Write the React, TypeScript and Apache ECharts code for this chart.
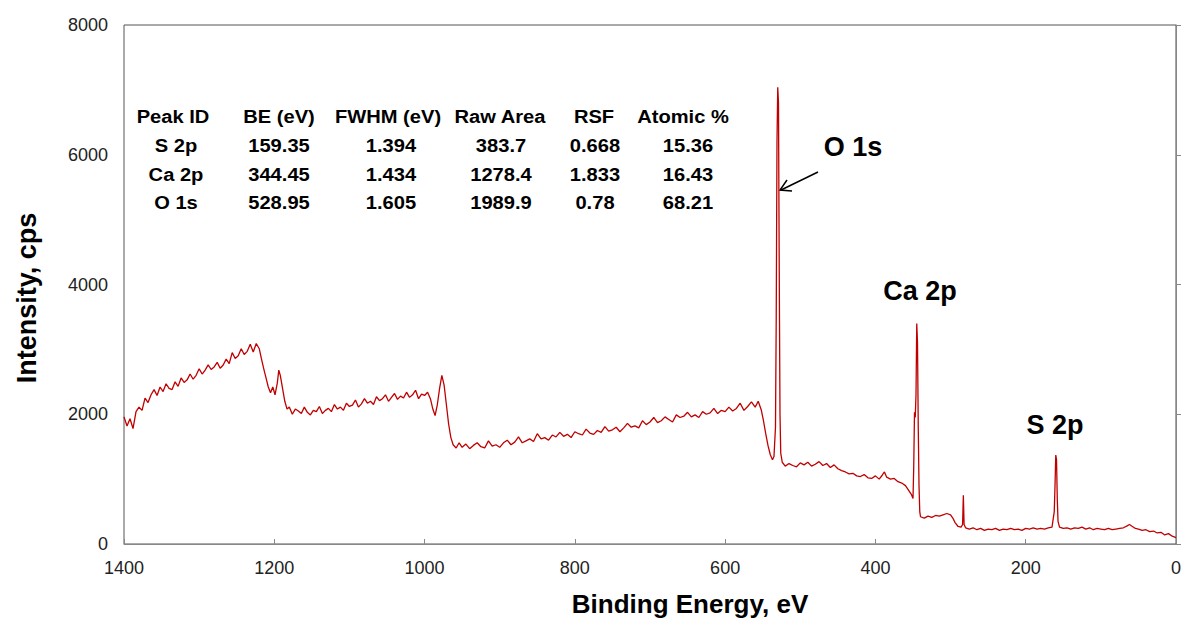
import React, { useEffect, useRef } from "react";
import * as echarts from "echarts";

// Binding energy (eV) / intensity (cps) pairs
const region1400to1180: [number, number][] = [
  [1400, 1960], [1396, 1820], [1392, 1930], [1388, 1780], [1384, 2040], [1380, 2110], [1376, 2060],
  [1372, 2250], [1368, 2180], [1364, 2300], [1360, 2380], [1356, 2290], [1352, 2420], [1348, 2350],
  [1344, 2470], [1340, 2400], [1336, 2380], [1332, 2500], [1328, 2430], [1324, 2560], [1320, 2490],
  [1316, 2530], [1312, 2620], [1308, 2540], [1304, 2600], [1300, 2700], [1296, 2620], [1292, 2680],
  [1288, 2760], [1284, 2690], [1280, 2730], [1276, 2800], [1272, 2710], [1268, 2760], [1264, 2850],
  [1260, 2780], [1256, 2950], [1252, 2860], [1248, 2900], [1244, 3010], [1240, 2920], [1236, 2970],
  [1232, 3080], [1228, 2960], [1224, 3090], [1220, 3010], [1217, 2850], [1214, 2700], [1211, 2560],
  [1208, 2420], [1205, 2330], [1202, 2420], [1199, 2300], [1196, 2480], [1194, 2680], [1192, 2600],
  [1189, 2400], [1186, 2200], [1183, 2080], [1180, 2110],
];

const region1176to952: [number, number][] = [
  [1176, 2000], [1172, 2080], [1168, 2050], [1164, 2010], [1160, 2110], [1156, 2030], [1152, 1990],
  [1148, 2060], [1144, 2040], [1140, 2120], [1136, 2010], [1132, 2060], [1128, 2090], [1124, 2040],
  [1120, 2150], [1116, 2080], [1112, 2110], [1108, 2060], [1104, 2170], [1100, 2120], [1096, 2140],
  [1092, 2220], [1088, 2110], [1084, 2160], [1080, 2240], [1076, 2170], [1072, 2200], [1068, 2150],
  [1064, 2270], [1060, 2210], [1056, 2240], [1052, 2300], [1048, 2200], [1044, 2260], [1040, 2320],
  [1036, 2230], [1032, 2280], [1028, 2250], [1024, 2340], [1020, 2260], [1016, 2300], [1012, 2370],
  [1008, 2240], [1004, 2310], [1000, 2290], [996, 2340], [992, 2230], [989, 2080], [986, 1980],
  [983, 2150], [980, 2400], [977, 2600], [974, 2450], [971, 2150], [968, 1850], [965, 1640],
  [962, 1530], [958, 1480], [954, 1560],
];

const region950to552: [number, number][] = [
  [950, 1490], [945, 1540], [940, 1470], [935, 1520], [930, 1560], [925, 1500], [920, 1480],
  [915, 1590], [910, 1510], [905, 1530], [900, 1490], [895, 1560], [890, 1600], [885, 1530],
  [880, 1570], [875, 1650], [870, 1560], [865, 1590], [860, 1620], [855, 1580], [850, 1700],
  [845, 1620], [840, 1640], [835, 1600], [830, 1680], [825, 1650], [820, 1720], [815, 1660],
  [810, 1690], [805, 1640], [800, 1730], [795, 1700], [790, 1680], [785, 1770], [780, 1710],
  [775, 1690], [770, 1750], [765, 1720], [760, 1810], [755, 1740], [750, 1760], [745, 1800],
  [740, 1730], [735, 1790], [730, 1860], [725, 1800], [720, 1820], [715, 1790], [710, 1900],
  [705, 1840], [700, 1880], [695, 1950], [690, 1870], [685, 1900], [680, 1960], [675, 1920],
  [670, 1880], [665, 1990], [660, 1950], [655, 1970], [650, 2030], [645, 1960], [640, 1990],
  [635, 1950], [630, 2040], [625, 2000], [620, 2020], [615, 2090], [610, 2010], [605, 2060],
  [600, 2040], [595, 2110], [590, 2050], [585, 2090], [580, 2170], [575, 2060], [570, 2120],
  [565, 2190], [560, 2110], [556, 2200], [552, 2070],
];

const regionO1s: [number, number][] = [
  [549, 1900], [546, 1700], [543, 1520], [540, 1380], [537, 1300], [535, 1350], [533, 1800],
  [532, 3500], [531, 6200], [530, 7040], [529, 6800], [528, 4200], [527, 2000], [526, 1400],
  [524, 1260],
];

const region520to350: [number, number][] = [
  [520, 1200], [515, 1240], [510, 1210], [505, 1190], [500, 1250], [495, 1220], [490, 1260],
  [485, 1200], [480, 1230], [475, 1270], [470, 1210], [465, 1240], [460, 1180], [455, 1220],
  [450, 1160], [445, 1130], [440, 1110], [435, 1080], [430, 1090], [425, 1050], [420, 1040],
  [415, 1070], [410, 1020], [405, 1010], [400, 1050], [395, 1000], [391, 1060], [388, 1110],
  [385, 1030], [380, 1000], [375, 1010], [370, 960], [365, 940], [360, 900], [356, 830],
  [352, 760], [350, 700],
];

const regionCa2p: [number, number][] = [
  [349, 1200], [348, 2030], [347, 1950], [346, 2300], [345, 3400], [344, 3100], [343, 1800],
  [342, 900], [341, 500], [340, 420],
];

const region335to165: [number, number][] = [
  [335, 400], [330, 430], [325, 410], [320, 440], [315, 430], [310, 450], [305, 470], [300, 450],
  [297, 400], [294, 330], [290, 270], [286, 260], [284, 300], [283, 750], [282, 300], [280, 250],
  [275, 230], [270, 250], [265, 220], [260, 240], [255, 210], [250, 230], [245, 220], [240, 240],
  [235, 210], [230, 230], [225, 220], [220, 240], [215, 220], [210, 230], [205, 210], [200, 240],
  [195, 230], [190, 250], [185, 230], [180, 240], [175, 230], [170, 250], [165, 260],
];

const regionS2p: [number, number][] = [
  [162, 500], [161, 900], [160, 1370], [159, 1300], [158, 700], [157, 350], [155, 260],
];

const region150to0: [number, number][] = [
  [150, 240], [145, 250], [140, 230], [135, 250], [130, 240], [125, 260], [120, 230], [115, 250],
  [110, 220], [105, 240], [100, 230], [95, 220], [90, 240], [85, 220], [80, 230], [75, 240],
  [70, 250], [65, 280], [62, 300], [58, 270], [54, 240], [50, 230], [45, 210], [40, 220],
  [35, 190], [30, 200], [25, 170], [20, 180], [15, 140], [10, 160], [5, 120], [0, 100],
];

const xTicks = { min: 0, max: 1400, interval: 200 };
const yTicks = { min: 0, max: 8000, interval: 2000 };

const tableHeader = ["Peak ID", "BE (eV)", "FWHM (eV)", "Raw Area", "RSF", "Atomic %"];
const tableRows = [
  ["S 2p", "159.35", "1.394", "383.7", "0.668", "15.36"],
  ["Ca 2p", "344.45", "1.434", "1278.4", "1.833", "16.43"],
  ["O 1s", "528.95", "1.605", "1989.9", "0.78", "68.21"],
];
const peakLabels = ["O 1s", "Ca 2p", "S 2p"];

export default function App() {
  const ref = useRef<HTMLDivElement>(null);
  useEffect(() => {
    document.body.style.margin = "0";
    if (!ref.current) return;
    const chart = echarts.init(ref.current, undefined, { renderer: "svg" });
    const font = '"Liberation Sans", Arial, sans-serif';
    const data = ([] as [number, number][]).concat(
      region1400to1180, region1176to952, region950to552, regionO1s, region520to350,
      regionCa2p, region335to165, regionS2p, region150to0
    );

    const headerX = [173, 279, 388, 500, 594, 683];
    const valueX = [176, 279, 391, 501, 595, 688];
    const rowY = [116, 145, 174, 202];
    const graphics: any[] = [];
    tableHeader.forEach((t, i) => {
      graphics.push({
        type: "text", x: headerX[i], y: rowY[0], scaleX: 1.06,
        style: { text: t, fill: "#000", font: `bold 19px ${font}`, align: "center", verticalAlign: "middle" },
      });
    });
    tableRows.forEach((row, r) => {
      row.forEach((t, i) => {
        graphics.push({
          type: "text", x: valueX[i], y: rowY[r + 1], scaleX: 1.06,
          style: { text: t, fill: "#000", font: `bold 19px ${font}`, align: "center", verticalAlign: "middle" },
        });
      });
    });
    const labelPos = [[853, 147], [920, 291], [1055, 425]];
    peakLabels.forEach((t, i) => {
      graphics.push({
        type: "text", x: labelPos[i][0], y: labelPos[i][1],
        style: { text: t, fill: "#000", font: `bold 27px ${font}`, align: "center", verticalAlign: "middle" },
      });
    });
    graphics.push({
      type: "polyline",
      shape: { points: [[818, 172], [781, 190]] },
      style: { stroke: "#000", lineWidth: 1.5, fill: null },
    });
    graphics.push({
      type: "polyline",
      shape: { points: [[792, 191], [780, 190], [787, 180]] },
      style: { stroke: "#000", lineWidth: 1.5, fill: null },
    });
    graphics.push({
      type: "text", x: 690, y: 604,
      style: { text: "Binding Energy, eV", fill: "#000", font: `bold 26px ${font}`, align: "center", verticalAlign: "middle" },
    });
    graphics.push({
      type: "text", x: 27, y: 298, rotation: Math.PI / 2,
      style: { text: "Intensity, cps", fill: "#000", font: `bold 27px ${font}`, align: "center", verticalAlign: "middle" },
    });

    chart.setOption({
      animation: false,
      backgroundColor: "#fff",
      grid: { left: 124, right: 8, top: 25, bottom: 77, show: true, borderColor: "#555", borderWidth: 1 },
      xAxis: {
        type: "value", inverse: true, ...xTicks,
        axisLine: { show: true, lineStyle: { color: "#888" } },
        axisTick: { show: true, inside: true, length: 5, lineStyle: { color: "#888" } },
        axisLabel: { color: "#222", fontSize: 18, fontFamily: font, margin: 15, formatter: (v: number) => String(v) },
        splitLine: { show: false },
      },
      yAxis: {
        type: "value", ...yTicks,
        axisLine: { show: true, lineStyle: { color: "#888" } },
        axisTick: { show: true, inside: true, length: 5, lineStyle: { color: "#888" } },
        axisLabel: { color: "#222", fontSize: 18, fontFamily: font, margin: 16, formatter: (v: number) => String(v) },
        splitLine: { show: false },
      },
      series: [
        {
          type: "line", data, showSymbol: false, symbol: "none",
          lineStyle: { color: "#C00000", width: 1.3 },
        },
      ],
      graphic: graphics,
    });
    return () => chart.dispose();
  }, []);
  return <div ref={ref} style={{ width: 1184, height: 621 }} />;
}
